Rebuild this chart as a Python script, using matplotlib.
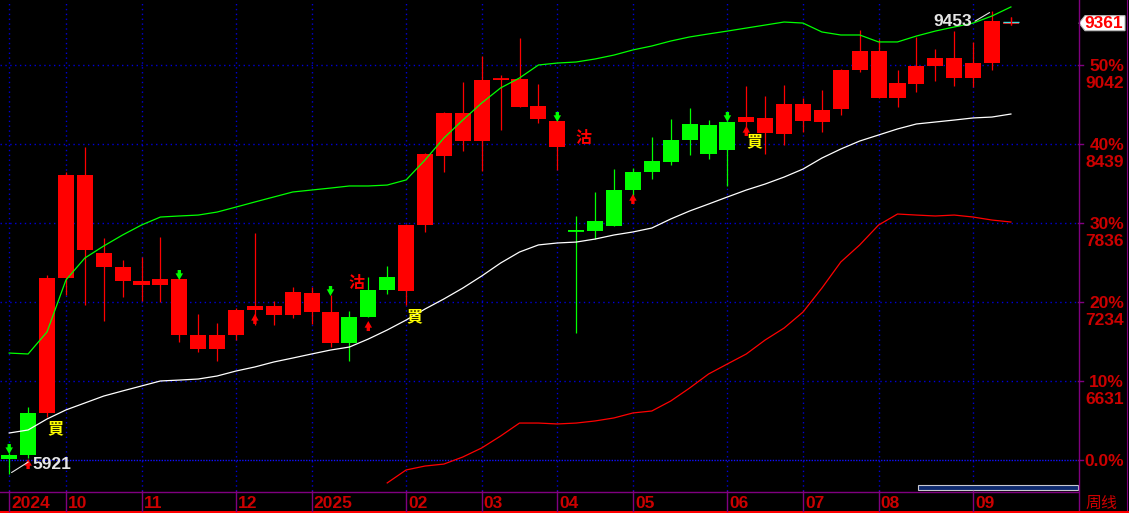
import numpy as np
import matplotlib
matplotlib.use("Agg")
import matplotlib.pyplot as plt
import matplotlib.transforms as mtransforms
from matplotlib.patches import Rectangle, Polygon
from matplotlib.lines import Line2D

# weekly bars, Sep 2024 - Sep 2025
opens = [6066, 6387, 6387, 7417, 7630, 7501, 7394, 7363, 7363, 6982,
         6875, 6875, 6982, 7173, 7134, 7134, 7157, 6921, 7119, 7325,
         7424, 7318, 7821, 8348, 8462, 8462, 8928, 8722, 8630, 8416,
         7783, 7852, 8088, 8226, 8310, 8470, 8592, 8584, 8607, 8607,
         8523, 8516, 8615, 8607, 8706, 9004, 8790, 8790, 8897, 9034,
         8943, 8943, 9057, 9361]
closes = [6036, 6066, 7417, 8203, 8203, 7608, 7501, 7394, 7409, 7409,
          6982, 6982, 7173, 7203, 7203, 7310, 7302, 7157, 6921, 7119,
          7325, 7821, 8363, 8676, 8676, 8928, 8935, 8935, 8729, 8615,
          7775, 7775, 7814, 8088, 8226, 8302, 8470, 8363, 8393, 8645,
          8638, 8744, 8744, 8699, 9004, 9149, 9149, 8905, 9034, 9095,
          9095, 9057, 9378, 9361]
highs = [6081, 6432, 7440, 8226, 8416, 7722, 7554, 7577, 7730, 7409,
         7142, 7073, 7188, 7760, 7241, 7348, 7348, 7287, 7165, 7424,
         7508, 7829, 8371, 8683, 8912, 9111, 8966, 9248, 8897, 8615,
         7890, 8073, 8248, 8256, 8493, 8630, 8714, 8622, 8615, 8882,
         8806, 8889, 8790, 8851, 9012, 9309, 9240, 9004, 9256, 9164,
         9301, 9218, 9453, 9408]
lows = [5921, 6043, 6356, 7287, 7211, 7089, 7272, 7241, 7234, 6928,
        6852, 6783, 6944, 7058, 7058, 7112, 7066, 6890, 6783, 7119,
        7295, 7211, 7768, 8226, 8386, 8233, 8546, 8722, 8599, 8241,
        6997, 7714, 7814, 8012, 8172, 8279, 8355, 8325, 8119, 8546,
        8363, 8432, 8531, 8531, 8660, 8989, 8790, 8722, 8836, 8920,
        8882, 8874, 9004, 9347]

# channel lines
upper_band = [6844, 6837, 7005, 7401, 7569, 7661, 7745, 7821, 7882, 7890,
              7897, 7920, 7958, 7997, 8035, 8073, 8088, 8103, 8119, 8119,
              8126, 8165, 8317, 8485, 8622, 8752, 8867, 8943, 9042, 9057,
              9065, 9088, 9118, 9157, 9187, 9225, 9256, 9279, 9301, 9324,
              9347, 9370, 9362, 9294, 9271, 9271, 9218, 9218, 9263, 9301,
              9332, 9362, 9416, 9485]
mid_band = [6234, 6257, 6341, 6410, 6463, 6516, 6555, 6593, 6631, 6638,
            6646, 6669, 6707, 6738, 6776, 6806, 6837, 6867, 6890, 6951,
            7020, 7096, 7180, 7257, 7340, 7432, 7531, 7615, 7669, 7684,
            7691, 7714, 7745, 7768, 7798, 7867, 7928, 7981, 8035, 8088,
            8134, 8187, 8248, 8332, 8401, 8462, 8508, 8554, 8592, 8607,
            8622, 8638, 8645, 8668]
lower_start = 20
lower_band = [5853, 5952, 5982, 5997, 6051, 6120, 6211, 6310, 6310, 6303,
              6310, 6326, 6349, 6387, 6402, 6478, 6577, 6684, 6761, 6837,
              6944, 7035, 7157, 7340, 7539, 7669, 7821, 7905, 7897, 7890,
              7897, 7882, 7859, 7844]

month_pos = [0, 3, 7, 12, 16, 21, 25, 29, 33, 38, 42, 46, 51]
month_labels = ["2024", "10", "11", "12", "2025", "02", "03", "04",
                "05", "06", "07", "08", "09"]

base_price = 6028
pct_values = [0, 10, 20, 30, 40, 50]
pct_labels = ["0.0%", "10%", "20%", "30%", "40%", "50%"]
level_labels = ["", "6631", "7234", "7836", "8439", "9042"]

down_arrow_idx = [0, 9, 17, 29, 38]
up_arrow_idx = [1, 13, 19, 33, 39]
buy_idx = [2, 21, 39]
sell_idx = [17, 29]
sell_dy = [12, -17]
period_label = "周线"

RED = "#ff0000"
GREEN = "#00ff00"
DARKRED = "#cc0000"
PURPLE = "#800080"
GRID = "#0000d8"
NUMFONT = ["Liberation Sans", "DejaVu Sans"]
CJK = ["Noto Sans CJK TC", "DejaVu Sans"]

W, H = 1129, 513
fig = plt.figure(figsize=(W / 100, H / 100), dpi=100, facecolor="black")
ax = fig.add_axes([0, 22 / H, 1078 / W, 491 / H])
ax.set_facecolor("black")
ax.set_xlim(-0.487, 56.55)
ax.set_ylim(5791.5, 9538.0)
ax.axis("off")
ident = mtransforms.IdentityTransform()

# grid
level_prices = [base_price * (1 + p / 100) for p in pct_values]
for p, lp in zip(pct_values, level_prices):
    if p == 0:
        ax.axhline(lp, color="#1010ff", lw=1.0, ls=(0, (1, 1)), zorder=0)
    else:
        ax.axhline(lp, color=GRID, lw=1.0, ls=(0, (1, 2.5)), zorder=0)
for m in month_pos:
    ax.axvline(m, color=GRID, lw=1.0, ls=(0, (1, 2.5)), zorder=0)

# candles
x = np.arange(len(opens))
o = np.array(opens)
c = np.array(closes)
cols = [RED if cc >= oo else GREEN for oo, cc in zip(o, c)]
ax.vlines(x, lows, highs, colors=cols, lw=0.9, zorder=3)
ax.bar(x, np.abs(c - o), bottom=np.minimum(o, c), width=0.85, color=cols,
       linewidth=0, zorder=4)
for i in range(len(x)):
    if abs(c[i] - o[i]) < 10:
        ax.hlines(c[i], i - 0.425, i + 0.425, color=cols[i], lw=1.3, zorder=4)
up1 = mtransforms.offset_copy(ax.transData, fig=fig, x=0, y=1, units="dots")
ax.hlines(c[-1], len(x) - 1 - 0.425, len(x) - 1 + 0.425, color="#40e0e0",
          lw=1.0, zorder=5, transform=up1)
ax.vlines(len(x) - 1, lows[-1], highs[-1], color=RED, lw=0.9, zorder=6)

# channel lines on top
ax.plot(x, upper_band, color=GREEN, lw=0.9, zorder=6)
ax.plot(x, mid_band, color="white", lw=0.9, zorder=6)
ax.plot(np.arange(lower_start, lower_start + len(lower_band)), lower_band,
        color=RED, lw=0.9, zorder=6)

# signal arrows (filled shaft + head)
astyle = "simple,head_length=0.4,head_width=0.45,tail_width=0.2"
tip_dn = mtransforms.offset_copy(ax.transData, fig=fig, x=0, y=-1, units="dots")
for i in down_arrow_idx:
    ax.annotate("", xy=(i, highs[i]), xycoords=tip_dn, xytext=(0, 10),
                textcoords="offset pixels",
                arrowprops=dict(arrowstyle=astyle, color=GREEN, lw=0,
                                shrinkA=0, shrinkB=0, mutation_scale=12),
                zorder=7)
tip_up = mtransforms.offset_copy(ax.transData, fig=fig, x=0, y=-4, units="dots")
for i in up_arrow_idx:
    ax.annotate("", xy=(i, min(opens[i], closes[i])), xycoords=tip_up,
                xytext=(0, -10), textcoords="offset pixels",
                arrowprops=dict(arrowstyle=astyle, color=RED, lw=0,
                                shrinkA=0, shrinkB=0, mutation_scale=12),
                zorder=7)

for i in buy_idx:
    ax.annotate("買", xy=(i, lows[i]), xytext=(8, -11), textcoords="offset pixels",
                ha="center", va="center", color="#ffff00", fontsize=11.5,
                fontweight="bold", family=CJK, zorder=8)
for i, dy in zip(sell_idx, sell_dy):
    ax.annotate("沽", xy=(i, highs[i]), xytext=(26, dy), textcoords="offset pixels",
                ha="center", va="center", color=RED, fontsize=11.5,
                fontweight="bold", family=CJK, zorder=8)

# high / low labels
hi = int(np.argmax(highs))
lo = int(np.argmin(lows))
ax.annotate(str(highs[hi]), xy=(hi, highs[hi]), xytext=(-20, -10),
            textcoords="offset pixels", ha="right", va="center",
            color="#e6e6e6", fontsize=12.5, fontweight="bold", family=NUMFONT,
            zorder=8)
ax.annotate("", xy=(hi, highs[hi]), xytext=(-17, -10), textcoords="offset pixels",
            arrowprops=dict(arrowstyle="-", color="#e6e6e6", lw=0.8,
                            shrinkA=0, shrinkB=2), zorder=8)
ax.annotate(str(lows[lo]), xy=(lo, lows[lo]), xytext=(23, 10),
            textcoords="offset pixels", ha="left", va="center",
            color="#e6e6e6", fontsize=12.5, fontweight="bold", family=NUMFONT,
            zorder=8)
ax.annotate("", xy=(lo, lows[lo]), xytext=(19, 12), textcoords="offset pixels",
            arrowprops=dict(arrowstyle="-", color="#e6e6e6", lw=0.8,
                            shrinkA=0, shrinkB=2), zorder=8)

# frame lines in pixel space
def pline(xs, ys, color, lw=1.0):
    fig.add_artist(Line2D(xs, ys, transform=ident, color=color, lw=lw))

pline([1078.5, 1078.5], [0, H], PURPLE)
pline([1126.5, 1126.5], [3, H], PURPLE, 0.8)
pline([0, 1078], [21.5, 21.5], PURPLE)
pline([0, W], [1, 1], RED, 1.5)

# right scale
for lp, pl, nl in zip(level_prices, pct_labels, level_labels):
    yd = ax.transData.transform((0, lp))[1]
    pline([1078, 1083], [yd, yd], PURPLE)
    fig.text(1124, yd - 1, pl, transform=ident, ha="right", va="center",
             color=DARKRED, fontsize=12.5, fontweight="bold", family=NUMFONT)
    if nl:
        fig.text(1124, yd - 18, nl, transform=ident, ha="right", va="center",
                 color=DARKRED, fontsize=12.5, fontweight="bold", family=NUMFONT)

# last price tag
yl = ax.transData.transform((0, closes[-1]))[1]
tag = Polygon([(1079, yl), (1085, yl + 7.5), (1125, yl + 7.5), (1125, yl - 7.5),
               (1085, yl - 7.5)], closed=True, transform=ident,
              facecolor="white", edgecolor="#bbbbbb", lw=0.8)
fig.add_artist(tag)
fig.text(1123, yl, str(closes[-1]), transform=ident, ha="right", va="center",
         color=RED, fontsize=12.5, fontweight="bold", family=NUMFONT)

# month axis
for m, lab in zip(month_pos, month_labels):
    xd = ax.transData.transform((m, 0))[0]
    pline([xd, xd], [2, 22], PURPLE)
    fig.text(xd + 2, 9, lab, transform=ident, ha="left", va="center",
             color=DARKRED, fontsize=12.5, fontweight="bold", family=NUMFONT)
fig.text(1101, 10, period_label, transform=ident, ha="center", va="center",
         color=DARKRED, fontsize=11.5, family=["Noto Sans CJK SC", "DejaVu Sans"])

# scroll bar
fig.add_artist(Rectangle((917.5, 23.5), 160, 5, transform=ident,
                         facecolor="#0e2a6e", edgecolor="#c8c8d0", lw=0.8))

fig.savefig("out.png", dpi=100, facecolor="black")
